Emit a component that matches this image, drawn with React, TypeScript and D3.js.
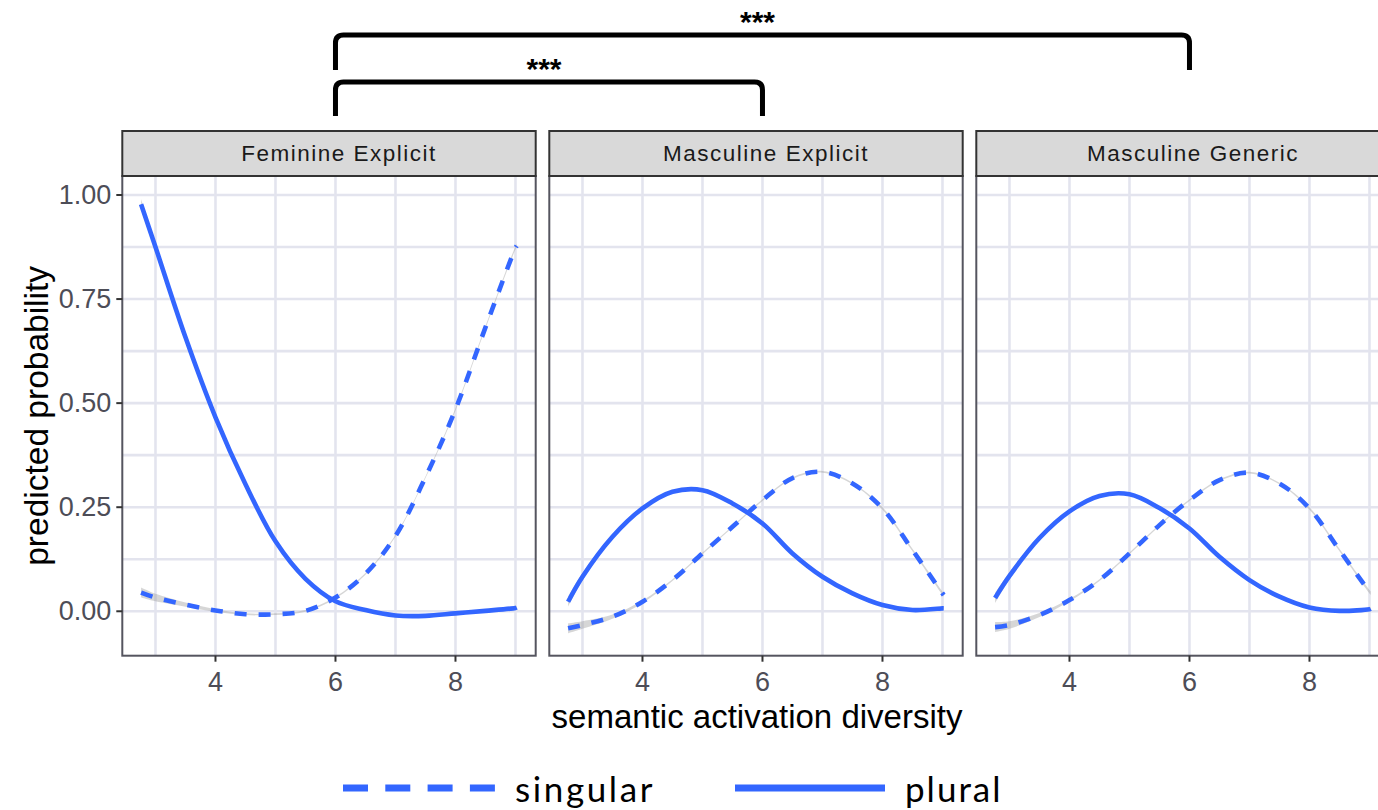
import * as d3 from 'd3';

// smoothed predictions, one value per xGrid entry
const xGrid = [2.76, 3, 3.5, 4, 4.5, 5, 5.5, 6, 6.5, 7, 7.5, 8, 8.5, 9, 9.02];
const facets = ['Feminine Explicit', 'Masculine Explicit', 'Masculine Generic'];

const feminineSingular = [0.045, 0.033, 0.016, 0.002, -0.007, -0.007, 0.001, 0.033, 0.09, 0.181, 0.322, 0.485, 0.682, 0.873, 0.878];
const femininePlural = [0.978, 0.875, 0.658, 0.466, 0.305, 0.168, 0.078, 0.024, 0.003, -0.01, -0.011, -0.005, 0.001, 0.008, 0.009];
const mascExplicitSingular = [-0.041, -0.033, -0.013, 0.023, 0.075, 0.139, 0.203, 0.267, 0.32, 0.335, 0.307, 0.247, 0.147, 0.043, 0.039];
const mascExplicitPlural = [0.023, 0.083, 0.179, 0.247, 0.287, 0.291, 0.259, 0.211, 0.139, 0.083, 0.043, 0.015, 0.003, 0.007, 0.007];
const mascGenericSingular = [-0.038, -0.033, -0.009, 0.027, 0.075, 0.139, 0.207, 0.267, 0.315, 0.333, 0.307, 0.247, 0.147, 0.047, 0.044];
const mascGenericPlural = [0.032, 0.085, 0.176, 0.24, 0.277, 0.281, 0.248, 0.199, 0.131, 0.075, 0.035, 0.009, 0.001, 0.005, 0.006];
// half width of the grey confidence band
const bandHalf = [0.012, 0.009, 0.005, 0.003, 0.002, 0.002, 0.002, 0.002, 0.002, 0.002, 0.002, 0.003, 0.003, 0.004, 0.004];

const singularByFacet = [feminineSingular, mascExplicitSingular, mascGenericSingular];
const pluralByFacet = [femininePlural, mascExplicitPlural, mascGenericPlural];

const xMajor = [4, 6, 8];
const xMinor = [3, 5, 7, 9];
const yMajor = [0, 0.25, 0.5, 0.75, 1];
const yMinor = [0.125, 0.375, 0.625, 0.875];
const yLabels = ['0.00', '0.25', '0.50', '0.75', '1.00'];

// significance brackets: from facet a to facet b, at data x = 6
const brackets = [
  { from: 0, to: 2, label: '***', level: 0 },
  { from: 0, to: 1, label: '***', level: 1 },
];

const W = 1378;
const H = 810;
const panelX0 = 122.3;
const panelW = 413.4;
const panelStep = 427;
const stripTop = 131;
const panelTop = 176;
const panelBottom = 655.7;
const blue = '#3366FF';
const gridCol = '#e3e4ee';
const borderCol = '#55555f';
const sans = '"Liberation Sans", Arial, sans-serif';

const x = d3.scaleLinear().domain([2.447, 9.337]).range([0, panelW]);
const y = d3.scaleLinear().domain([-0.1067, 1.0456]).range([panelBottom, panelTop]);

const line = d3.line<number>()
  .x((_, i) => x(xGrid[i]))
  .y((d) => y(d))
  .curve(d3.curveCatmullRom.alpha(0.5));

const band = (vals: number[]) =>
  d3.area<number>()
    .x((_, i) => x(xGrid[i]))
    .y0((d, i) => y(d - bandHalf[i]))
    .y1((d, i) => y(d + bandHalf[i]))
    .curve(d3.curveCatmullRom.alpha(0.5))(vals) || '';

function Panel({ idx }: { idx: number }) {
  const left = panelX0 + idx * panelStep;
  const sing = singularByFacet[idx];
  const plur = pluralByFacet[idx];
  return (
    <g transform={`translate(${left},0)`}>
      <clipPath id={`clip${idx}`}>
        <rect x={0} y={panelTop} width={panelW} height={panelBottom - panelTop} />
      </clipPath>
      <rect x={0} y={panelTop} width={panelW} height={panelBottom - panelTop} fill="#fff" />
      {yMinor.concat(yMajor).map((v) => (
        <line key={`h${v}`} x1={0} x2={panelW} y1={y(v)} y2={y(v)} stroke={gridCol} strokeWidth={2.6} />
      ))}
      {xMinor.concat(xMajor).map((v) => (
        <line key={`v${v}`} x1={x(v)} x2={x(v)} y1={panelTop} y2={panelBottom} stroke={gridCol} strokeWidth={2.6} />
      ))}
      <g clipPath={`url(#clip${idx})`}>
        <path d={band(sing)} fill="#999" fillOpacity={0.4} />
        <path d={line(sing) || ''} fill="none" stroke={blue} strokeWidth={4.6} strokeDasharray="12 12" />
        <path d={band(plur)} fill="#999" fillOpacity={0.4} />
        <path d={line(plur) || ''} fill="none" stroke={blue} strokeWidth={4.6} />
      </g>
      <rect x={0} y={panelTop} width={panelW} height={panelBottom - panelTop} fill="none" stroke={borderCol} strokeWidth={2} />
      <rect x={0} y={stripTop} width={panelW} height={panelTop - stripTop} fill="#d9d9d9" stroke="#333" strokeWidth={2} />
      <text x={panelW / 2 + 10} y={(stripTop + panelTop) / 2} textAnchor="middle" dominantBaseline="central"
        fontFamily={sans} fontSize={22.5} letterSpacing={1.5} fill="#1a1a1a">{facets[idx]}</text>
      {xMajor.map((v) => (
        <g key={`xt${v}`}>
          <line x1={x(v)} x2={x(v)} y1={panelBottom} y2={panelBottom + 6} stroke="#333" strokeWidth={2} />
          <text x={x(v)} y={panelBottom + 26} textAnchor="middle" dominantBaseline="central"
            fontFamily={sans} fontSize={27} fill="#4d4d57">{String(v)}</text>
        </g>
      ))}
    </g>
  );
}

export default function App() {
  const facetX = (i: number) => panelX0 + i * panelStep + x(6);
  const bracketTop = [35, 82];
  const bracketBottom = [70, 116];
  const r = 8;
  return (
    <svg width={W} height={H} style={{ position: 'absolute', left: 0, top: 0, display: 'block', background: '#fff' }}>
      <rect width={W} height={H} fill="#fff" />
      {facets.map((_, i) => <Panel key={i} idx={i} />)}
      {yMajor.map((v, i) => (
        <g key={`yt${v}`}>
          <line x1={panelX0 - 6} x2={panelX0} y1={y(v)} y2={y(v)} stroke="#333" strokeWidth={2} />
          <text x={panelX0 - 11} y={y(v)} textAnchor="end" dominantBaseline="central"
            fontFamily={sans} fontSize={27} fill="#4d4d57">{yLabels[i]}</text>
        </g>
      ))}
      <text x={757} y={716} textAnchor="middle" dominantBaseline="central" fontFamily={sans} fontSize={33} fill="#000">
        semantic activation diversity
      </text>
      <text transform={`translate(36,${(panelTop + panelBottom) / 2}) rotate(-90)`} textAnchor="middle"
        dominantBaseline="central" fontFamily={sans} fontSize={33.5} fill="#000">predicted probability</text>

      {brackets.map((b) => {
        const x1 = facetX(b.from);
        const x2 = facetX(b.to);
        const yt = bracketTop[b.level];
        const yb = bracketBottom[b.level];
        const d = `M${x1},${yb} L${x1},${yt + r} Q${x1},${yt} ${x1 + r},${yt} L${x2 - r},${yt} Q${x2},${yt} ${x2},${yt + r} L${x2},${yb}`;
        return (
          <g key={`${b.from}-${b.to}`}>
            <path d={d} fill="none" stroke="#000" strokeWidth={5} />
            <text x={(x1 + x2) / 2 - 5} y={yt - 3} textAnchor="middle" fontFamily={sans} fontWeight="bold"
              fontSize={30} fill="#000">{b.label}</text>
          </g>
        );
      })}

      <g>
        <line x1={343} x2={495} y1={788} y2={788} stroke={blue} strokeWidth={7} strokeDasharray="25 17.3" />
        <text x={515} y={788} dominantBaseline="central" fontFamily="Lato, sans-serif" fontSize={35}
          letterSpacing={2.6} fill="#000">singular</text>
        <line x1={735} x2={885} y1={788} y2={788} stroke={blue} strokeWidth={7} />
        <text x={905} y={788} dominantBaseline="central" fontFamily="Lato, sans-serif" fontSize={35}
          letterSpacing={2} fill="#000">plural</text>
      </g>
    </svg>
  );
}
